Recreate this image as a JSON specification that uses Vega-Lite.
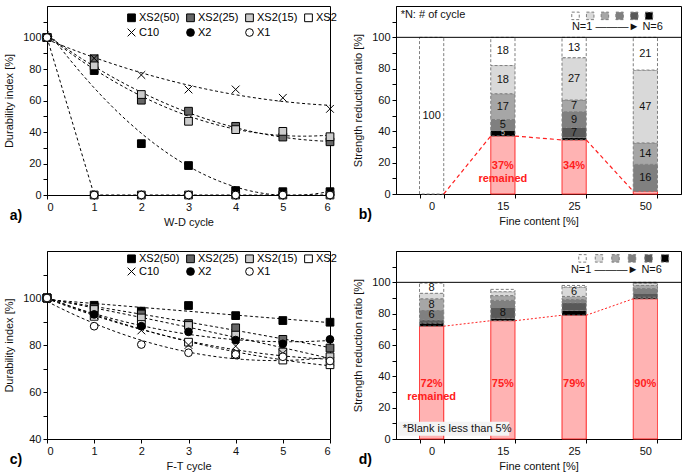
{
 "$schema": "https://vega.github.io/schema/vega-lite/v6.json",
 "padding": {"left": 3, "top": 5, "right": 0, "bottom": 0},
 "config": {
  "font": "Liberation Sans",
  "view": {"stroke": "#000", "strokeWidth": 1},
  "axis": {"grid": false, "domainColor": "#000", "tickColor": "#000", "labelColor": "#111", "titleColor": "#111", "labelFontSize": 11, "titleFontSize": 11, "titleFontWeight": "normal", "tickSize": 4, "labelPadding": 2, "labelFont": "Liberation Sans", "titleFont": "Liberation Sans", "labelOverlap": false},
  "axisY": {"titlePadding": 8, "labelOverlap": false},
  "axisX": {"titlePadding": 4},
  "text": {"font": "Liberation Sans"},
  "legend": {"labelFont": "Liberation Sans", "labelColor": "#000", "labelFontSize": 11, "titleFont": "Liberation Sans"}
 },
 "datasets": {
  "wd": [
   {"series": "XS2(50)", "cycle": 0, "value": 100}, {"series": "XS2(50)", "cycle": 1, "value": 79}, {"series": "XS2(50)", "cycle": 2, "value": 32.6}, {"series": "XS2(50)", "cycle": 3, "value": 18.7}, {"series": "XS2(50)", "cycle": 4, "value": 2.8}, {"series": "XS2(50)", "cycle": 5, "value": 2.1}, {"series": "XS2(50)", "cycle": 6, "value": 2.1},
   {"series": "XS2(25)", "cycle": 0, "value": 100}, {"series": "XS2(25)", "cycle": 1, "value": 86.5}, {"series": "XS2(25)", "cycle": 2, "value": 60.2}, {"series": "XS2(25)", "cycle": 3, "value": 53.2}, {"series": "XS2(25)", "cycle": 4, "value": 43.6}, {"series": "XS2(25)", "cycle": 5, "value": 36.8}, {"series": "XS2(25)", "cycle": 6, "value": 33.8},
   {"series": "XS2(15)", "cycle": 0, "value": 100}, {"series": "XS2(15)", "cycle": 1, "value": 82}, {"series": "XS2(15)", "cycle": 2, "value": 63.8}, {"series": "XS2(15)", "cycle": 3, "value": 46.8}, {"series": "XS2(15)", "cycle": 4, "value": 41.5}, {"series": "XS2(15)", "cycle": 5, "value": 40.4}, {"series": "XS2(15)", "cycle": 6, "value": 37},
   {"series": "XS2", "cycle": 0, "value": 100}, {"series": "XS2", "cycle": 1, "value": 0}, {"series": "XS2", "cycle": 2, "value": 0}, {"series": "XS2", "cycle": 3, "value": 0}, {"series": "XS2", "cycle": 4, "value": 0}, {"series": "XS2", "cycle": 5, "value": 0}, {"series": "XS2", "cycle": 6, "value": 0},
   {"series": "C10", "cycle": 0, "value": 100}, {"series": "C10", "cycle": 1, "value": 86.8}, {"series": "C10", "cycle": 2, "value": 76.2}, {"series": "C10", "cycle": 3, "value": 67}, {"series": "C10", "cycle": 4, "value": 67}, {"series": "C10", "cycle": 5, "value": 61.7}, {"series": "C10", "cycle": 6, "value": 54.7},
   {"series": "X2", "cycle": 0, "value": 100}, {"series": "X2", "cycle": 1, "value": 0}, {"series": "X2", "cycle": 2, "value": 0}, {"series": "X2", "cycle": 3, "value": 0}, {"series": "X2", "cycle": 4, "value": 0}, {"series": "X2", "cycle": 5, "value": 0}, {"series": "X2", "cycle": 6, "value": 0},
   {"series": "X1", "cycle": 0, "value": 100}, {"series": "X1", "cycle": 1, "value": 0}, {"series": "X1", "cycle": 2, "value": 0}, {"series": "X1", "cycle": 3, "value": 0}, {"series": "X1", "cycle": 4, "value": 0}, {"series": "X1", "cycle": 5, "value": 0}, {"series": "X1", "cycle": 6, "value": 0}
  ],
  "ft": [
   {"series": "XS2(50)", "cycle": 0, "value": 100}, {"series": "XS2(50)", "cycle": 1, "value": 96.9}, {"series": "XS2(50)", "cycle": 2, "value": 94.4}, {"series": "XS2(50)", "cycle": 3, "value": 96.8}, {"series": "XS2(50)", "cycle": 4, "value": 92.5}, {"series": "XS2(50)", "cycle": 5, "value": 90.4}, {"series": "XS2(50)", "cycle": 6, "value": 89.7},
   {"series": "XS2(25)", "cycle": 0, "value": 100}, {"series": "XS2(25)", "cycle": 1, "value": 95.8}, {"series": "XS2(25)", "cycle": 2, "value": 93.2}, {"series": "XS2(25)", "cycle": 3, "value": 89.1}, {"series": "XS2(25)", "cycle": 4, "value": 87.3}, {"series": "XS2(25)", "cycle": 5, "value": 82.4}, {"series": "XS2(25)", "cycle": 6, "value": 78.7},
   {"series": "XS2(15)", "cycle": 0, "value": 100}, {"series": "XS2(15)", "cycle": 1, "value": 95.1}, {"series": "XS2(15)", "cycle": 2, "value": 91.5}, {"series": "XS2(15)", "cycle": 3, "value": 88.3}, {"series": "XS2(15)", "cycle": 4, "value": 84.2}, {"series": "XS2(15)", "cycle": 5, "value": 77}, {"series": "XS2(15)", "cycle": 6, "value": 75},
   {"series": "XS2", "cycle": 0, "value": 100}, {"series": "XS2", "cycle": 1, "value": 92.2}, {"series": "XS2", "cycle": 2, "value": 88.7}, {"series": "XS2", "cycle": 3, "value": 81.2}, {"series": "XS2", "cycle": 4, "value": 75.9}, {"series": "XS2", "cycle": 5, "value": 73.6}, {"series": "XS2", "cycle": 6, "value": 71.6},
   {"series": "C10", "cycle": 0, "value": 100}, {"series": "C10", "cycle": 1, "value": 92.7}, {"series": "C10", "cycle": 2, "value": 86.2}, {"series": "C10", "cycle": 3, "value": 80}, {"series": "C10", "cycle": 4, "value": 79.5}, {"series": "C10", "cycle": 5, "value": 76.4}, {"series": "C10", "cycle": 6, "value": 73},
   {"series": "X2", "cycle": 0, "value": 100}, {"series": "X2", "cycle": 1, "value": 93}, {"series": "X2", "cycle": 2, "value": 88}, {"series": "X2", "cycle": 3, "value": 85.6}, {"series": "X2", "cycle": 4, "value": 82.1}, {"series": "X2", "cycle": 5, "value": 80.5}, {"series": "X2", "cycle": 6, "value": 82.4},
   {"series": "X1", "cycle": 0, "value": 100}, {"series": "X1", "cycle": 1, "value": 88}, {"series": "X1", "cycle": 2, "value": 80.2}, {"series": "X1", "cycle": 3, "value": 76.7}, {"series": "X1", "cycle": 4, "value": 76}, {"series": "X1", "cycle": 5, "value": 75}, {"series": "X1", "cycle": 6, "value": 73.2}
  ],
  "bb": [
   {"cat": "0", "part": "N1", "value": 100, "label": "100", "pct": ""},
   {"cat": "15", "part": "remained", "value": 37, "label": "", "pct": "37%\nremained"},
   {"cat": "15", "part": "N6", "value": 3.5, "label": "5", "pct": ""},
   {"cat": "15", "part": "N4", "value": 7, "label": "5", "pct": ""},
   {"cat": "15", "part": "N3", "value": 16.5, "label": "17", "pct": ""},
   {"cat": "15", "part": "N2", "value": 18, "label": "18", "pct": ""},
   {"cat": "15", "part": "N1", "value": 18, "label": "18", "pct": ""},
   {"cat": "25", "part": "remained", "value": 34.5, "label": "", "pct": "34%"},
   {"cat": "25", "part": "N6", "value": 1.5, "label": "", "pct": ""},
   {"cat": "25", "part": "N5", "value": 6.5, "label": "7", "pct": ""},
   {"cat": "25", "part": "N4", "value": 10, "label": "9", "pct": ""},
   {"cat": "25", "part": "N3", "value": 7.5, "label": "7", "pct": ""},
   {"cat": "25", "part": "N2", "value": 27, "label": "27", "pct": ""},
   {"cat": "25", "part": "N1", "value": 13, "label": "13", "pct": ""},
   {"cat": "50", "part": "remained", "value": 1.7, "label": "", "pct": ""},
   {"cat": "50", "part": "N4", "value": 17.2, "label": "16", "pct": ""},
   {"cat": "50", "part": "N3", "value": 13.7, "label": "14", "pct": ""},
   {"cat": "50", "part": "N2", "value": 46.5, "label": "47", "pct": ""},
   {"cat": "50", "part": "N1", "value": 20.9, "label": "21", "pct": ""}
  ],
  "bd": [
   {"cat": "0", "part": "remained", "value": 72, "label": "", "pct": "72%\nremained"},
   {"cat": "0", "part": "N6", "value": 2, "label": "", "pct": ""},
   {"cat": "0", "part": "N5", "value": 2, "label": "", "pct": ""},
   {"cat": "0", "part": "N4", "value": 6, "label": "6", "pct": ""},
   {"cat": "0", "part": "N3", "value": 7.5, "label": "8", "pct": ""},
   {"cat": "0", "part": "N2", "value": 3.5, "label": "", "pct": ""},
   {"cat": "0", "part": "N1", "value": 6.5, "label": "8", "pct": ""},
   {"cat": "15", "part": "remained", "value": 75.5, "label": "", "pct": "75%"},
   {"cat": "15", "part": "N6", "value": 1.5, "label": "", "pct": ""},
   {"cat": "15", "part": "N5", "value": 7, "label": "8", "pct": ""},
   {"cat": "15", "part": "N4", "value": 4.5, "label": "", "pct": ""},
   {"cat": "15", "part": "N3", "value": 3, "label": "", "pct": ""},
   {"cat": "15", "part": "N2", "value": 2.5, "label": "", "pct": ""},
   {"cat": "15", "part": "N1", "value": 1.5, "label": "", "pct": ""},
   {"cat": "25", "part": "remained", "value": 79, "label": "", "pct": "79%"},
   {"cat": "25", "part": "N6", "value": 3, "label": "", "pct": ""},
   {"cat": "25", "part": "N5", "value": 5, "label": "", "pct": ""},
   {"cat": "25", "part": "N4", "value": 2, "label": "", "pct": ""},
   {"cat": "25", "part": "N3", "value": 2, "label": "", "pct": ""},
   {"cat": "25", "part": "N2", "value": 6, "label": "6", "pct": ""},
   {"cat": "25", "part": "N1", "value": 1, "label": "", "pct": ""},
   {"cat": "50", "part": "remained", "value": 89.5, "label": "", "pct": "90%"},
   {"cat": "50", "part": "N6", "value": 1, "label": "", "pct": ""},
   {"cat": "50", "part": "N5", "value": 2.5, "label": "", "pct": ""},
   {"cat": "50", "part": "N4", "value": 3, "label": "", "pct": ""},
   {"cat": "50", "part": "N3", "value": 2, "label": "", "pct": ""},
   {"cat": "50", "part": "N2", "value": 1.5, "label": "", "pct": ""},
   {"cat": "50", "part": "N1", "value": 0.5, "label": "", "pct": ""}
  ],
  "lb": [
   {"from": "0", "to": "15", "y1": 0, "y2": 37},
   {"from": "15", "to": "25", "y1": 37, "y2": 34.5},
   {"from": "25", "to": "50", "y1": 34.5, "y2": 1.7}
  ],
  "ld": [
   {"from": "0", "to": "15", "y1": 72, "y2": 75.5},
   {"from": "15", "to": "25", "y1": 75.5, "y2": 79},
   {"from": "25", "to": "50", "y1": 79, "y2": 89.5}
  ]
 },
 "columns": 2,
 "spacing": {"row": 22, "column": 14},
 "resolve": {
  "scale": {"x": "independent", "y": "independent", "fill": "independent", "shape": "independent", "stroke": "independent", "strokeDash": "independent", "size": "independent"},
  "legend": {"fill": "independent", "shape": "independent", "stroke": "independent"}
 },
 "concat": [
  {
   "width": 283, "height": 189,
   "title": {"text": "a)", "orient": "bottom", "anchor": "start", "frame": "bounds", "offset": 0, "dx": 6, "dy": -18, "fontSize": 14, "fontWeight": "bold", "color": "#000"},
   "data": {"name": "wd"},
   "encoding": {
    "x": {"field": "cycle", "type": "quantitative", "scale": {"domain": [0, 6], "nice": false}, "axis": {"title": "W-D cycle", "values": [0, 1, 2, 3, 4, 5, 6]}},
    "y": {"field": "value", "type": "quantitative", "scale": {"domain": [0, 120], "nice": false}, "axis": {"title": "Durability index [%]", "values": [0, 10, 20, 30, 40, 50, 60, 70, 80, 90, 100, 110], "labelExpr": "datum.value % 20 === 0 && datum.value <= 100 ? datum.label : ''"}}
   },
   "layer": [
    {"transform": [{"filter": {"field": "series", "oneOf": ["XS2(50)", "XS2(25)", "XS2(15)", "C10"]}}, {"regression": "value", "on": "cycle", "groupby": ["series"], "method": "poly", "order": 2}],
     "mark": {"type": "line", "color": "#000", "strokeWidth": 1, "strokeDash": [3, 2.5]},
     "encoding": {"detail": {"field": "series"}}},
    {"transform": [{"filter": {"field": "series", "equal": "XS2"}}],
     "mark": {"type": "line", "color": "#000", "strokeWidth": 1, "strokeDash": [3, 2.5]},
     "encoding": {}},
    {"mark": {"type": "point", "filled": true, "strokeWidth": 1, "opacity": 1, "size": 60},
     "encoding": {
      "shape": {"field": "series", "type": "nominal", "scale": {"domain": ["XS2(50)", "XS2(25)", "XS2(15)", "XS2", "C10", "X2", "X1"], "range": ["square", "square", "square", "square", "M-1,-1L1,1M-1,1L1,-1", "circle", "circle"]},
       "legend": {"title": null, "orient": "none", "legendX": 79, "legendY": 6, "direction": "horizontal", "columns": 4, "symbolSize": 60, "symbolStrokeWidth": 1, "labelOffset": 2, "columnPadding": 4, "rowPadding": 2, "labelFontSize": 11}},
      "fill": {"field": "series", "type": "nominal", "scale": {"domain": ["XS2(50)", "XS2(25)", "XS2(15)", "XS2", "C10", "X2", "X1"], "range": ["#000000", "#666666", "#cccccc", "#ffffff", "#000000", "#000000", "#ffffff"]},
       "legend": {"title": null, "orient": "none", "legendX": 79, "legendY": 6, "direction": "horizontal", "columns": 4, "symbolSize": 60, "symbolStrokeWidth": 1, "labelOffset": 2, "columnPadding": 4, "rowPadding": 2, "labelFontSize": 11}},
      "stroke": {"field": "series", "type": "nominal", "scale": {"domain": ["XS2(50)", "XS2(25)", "XS2(15)", "XS2", "C10", "X2", "X1"], "range": ["#000000", "#000000", "#000000", "#000000", "#000000", "#000000", "#000000"]},
       "legend": {"title": null, "orient": "none", "legendX": 79, "legendY": 6, "direction": "horizontal", "columns": 4, "symbolSize": 60, "symbolStrokeWidth": 1, "labelOffset": 2, "columnPadding": 4, "rowPadding": 2, "labelFontSize": 11}}
     }}
   ]
  },
  {
   "width": 285, "height": 188,
   "title": {"text": "b)", "orient": "bottom", "anchor": "start", "frame": "bounds", "offset": 0, "dx": 6, "dy": -18, "fontSize": 14, "fontWeight": "bold", "color": "#000"},
   "layer": [
    {"data": {"name": "bb"}, "mark": {"type": "bar", "strokeWidth": 1},
     "encoding": {
      "x": {"field": "cat", "type": "ordinal", "sort": ["0", "15", "25", "50"], "scale": {"type": "band", "paddingInner": 0.66, "paddingOuter": 0.33}, "axis": {"title": "Fine content [%]", "labelAngle": 0, "tickBand": "extent"}},
      "y": {"field": "value", "type": "quantitative", "stack": "zero", "scale": {"domain": [0, 120], "nice": false}, "axis": {"title": "Strength reduction ratio [%]", "values": [0, 10, 20, 30, 40, 50, 60, 70, 80, 90, 100, 110], "labelOverlap": false, "labelExpr": "datum.value % 20 === 0 && datum.value <= 100 ? datum.label : ''"}},
      "fill": {"field": "part", "type": "nominal", "scale": {"domain": ["N1", "N2", "N3", "N4", "N5", "N6", "remained"], "range": ["#ffffff", "#d9d9d9", "#a6a6a6", "#808080", "#595959", "#000000", "#ffb3b3"]},
       "legend": {"orient": "none", "legendX": 174, "legendY": 4, "direction": "horizontal", "values": ["N1", "N2", "N3", "N4", "N5", "N6"], "title": null, "labelExpr": "''", "labelOffset": 0, "symbolType": "square", "symbolSize": 56, "symbolStrokeColor": "#aaaaaa", "symbolStrokeWidth": 1, "symbolDash": [2, 1], "columnPadding": 1.7, "padding": 0}},
      "stroke": {"field": "part", "type": "nominal", "scale": {"domain": ["N1", "N2", "N3", "N4", "N5", "N6", "remained"], "range": ["#7f7f7f", "#7f7f7f", "#7f7f7f", "#7f7f7f", "#7f7f7f", "#7f7f7f", "#ff2020"]}, "legend": null},
      "strokeDash": {"field": "part", "type": "nominal", "scale": {"domain": ["N1", "N2", "N3", "N4", "N5", "N6", "remained"], "range": [[3, 2], [3, 2], [3, 2], [3, 2], [3, 2], [3, 2], [1, 0]]}, "legend": null},
      "order": {"field": "part", "sort": "descending"}
     }},
    {"data": {"name": "lb"}, "mark": {"type": "rule", "color": "#ff2020", "strokeWidth": 1.2, "strokeDash": [4, 3]},
     "encoding": {"x": {"field": "from", "type": "ordinal", "sort": ["0", "15", "25", "50"], "bandPosition": 1}, "x2": {"field": "to", "bandPosition": 0},
      "y": {"field": "y1", "type": "quantitative", "axis": {"title": "Strength reduction ratio [%]", "values": [0, 10, 20, 30, 40, 50, 60, 70, 80, 90, 100, 110], "labelOverlap": false, "labelExpr": "datum.value % 20 === 0 && datum.value <= 100 ? datum.label : ''"}}, "y2": {"field": "y2"}}},
    {"data": {"name": "bb"}, "mark": {"type": "text"},
     "encoding": {
      "x": {"field": "cat", "type": "ordinal", "sort": ["0", "15", "25", "50"]},
      "y": {"field": "value", "type": "quantitative", "stack": "zero", "bandPosition": 0.5, "axis": {"title": "Strength reduction ratio [%]", "values": [0, 10, 20, 30, 40, 50, 60, 70, 80, 90, 100, 110], "labelOverlap": false, "labelExpr": "datum.value % 20 === 0 && datum.value <= 100 ? datum.label : ''"}},
      "detail": {"field": "part"},
      "order": {"field": "part", "sort": "descending"},
      "text": {"field": "label"},
      "size": {"condition": {"test": "datum.part === 'N6'", "value": 7}, "value": 11},
      "color": {"condition": {"test": "datum.part === 'N6'", "value": "#cccccc"}, "value": "#111111"}
     }},
    {"data": {"name": "bb"}, "transform": [{"filter": "datum.part === 'remained'"}],
     "mark": {"type": "text", "fontSize": 11, "fontWeight": "bold", "color": "#ff2020", "lineBreak": "\n"},
     "encoding": {"x": {"field": "cat", "type": "ordinal", "sort": ["0", "15", "25", "50"]}, "y": {"datum": 18, "type": "quantitative", "axis": {"title": "Strength reduction ratio [%]", "values": [0, 10, 20, 30, 40, 50, 60, 70, 80, 90, 100, 110], "labelOverlap": false, "labelExpr": "datum.value % 20 === 0 && datum.value <= 100 ? datum.label : ''"}}, "text": {"field": "pct"}}},
    {"data": {"values": [{"note": "*N: # of cycle"}]}, "mark": {"type": "text", "align": "left", "fontSize": 11, "color": "#111", "dx": -31},
     "encoding": {"x": {"datum": "0"}, "y": {"datum": 114, "type": "quantitative", "axis": {"title": "Strength reduction ratio [%]", "values": [0, 10, 20, 30, 40, 50, 60, 70, 80, 90, 100, 110], "labelOverlap": false, "labelExpr": "datum.value % 20 === 0 && datum.value <= 100 ? datum.label : ''"}}, "text": {"field": "note"}}},
    {"data": {"values": [{"note": "N=1 ———► N=6"}]}, "mark": {"type": "text", "align": "center", "fontSize": 11, "color": "#111", "dx": -28},
     "encoding": {"x": {"datum": "50"}, "y": {"datum": 106.6, "type": "quantitative", "axis": {"title": "Strength reduction ratio [%]", "values": [0, 10, 20, 30, 40, 50, 60, 70, 80, 90, 100, 110], "labelOverlap": false, "labelExpr": "datum.value % 20 === 0 && datum.value <= 100 ? datum.label : ''"}}, "text": {"field": "note"}}},
    {"data": {"values": [{}]}, "mark": {"type": "rule", "color": "#000", "strokeWidth": 1}, "encoding": {"y": {"datum": 100, "type": "quantitative", "axis": {"title": "Strength reduction ratio [%]", "values": [0, 10, 20, 30, 40, 50, 60, 70, 80, 90, 100, 110], "labelOverlap": false, "labelExpr": "datum.value % 20 === 0 && datum.value <= 100 ? datum.label : ''"}}}}
   ]
  },
  {
   "width": 283, "height": 188,
   "title": {"text": "c)", "orient": "bottom", "anchor": "start", "frame": "bounds", "offset": 0, "dx": 6, "dy": -18, "fontSize": 14, "fontWeight": "bold", "color": "#000"},
   "data": {"name": "ft"},
   "encoding": {
    "x": {"field": "cycle", "type": "quantitative", "scale": {"domain": [0, 6], "nice": false}, "axis": {"title": "F-T cycle", "values": [0, 1, 2, 3, 4, 5, 6]}},
    "y": {"field": "value", "type": "quantitative", "scale": {"domain": [40, 120], "nice": false}, "axis": {"title": "Durability index [%]", "values": [40, 50, 60, 70, 80, 90, 100, 110], "labelExpr": "datum.value % 20 === 0 && datum.value <= 100 ? datum.label : ''"}}
   },
   "layer": [
    {"transform": [{"regression": "value", "on": "cycle", "groupby": ["series"], "method": "poly", "order": 2}],
     "mark": {"type": "line", "color": "#000", "strokeWidth": 1, "strokeDash": [3, 2.5]},
     "encoding": {"detail": {"field": "series"}}},
    {"mark": {"type": "point", "filled": true, "strokeWidth": 1, "opacity": 1, "size": 60},
     "encoding": {
      "shape": {"field": "series", "type": "nominal", "scale": {"domain": ["XS2(50)", "XS2(25)", "XS2(15)", "XS2", "C10", "X2", "X1"], "range": ["square", "square", "square", "square", "M-1,-1L1,1M-1,1L1,-1", "circle", "circle"]},
       "legend": {"title": null, "orient": "none", "legendX": 79, "legendY": 2, "direction": "horizontal", "columns": 4, "symbolSize": 60, "symbolStrokeWidth": 1, "labelOffset": 2, "columnPadding": 4, "rowPadding": 0, "labelFontSize": 11}},
      "fill": {"field": "series", "type": "nominal", "scale": {"domain": ["XS2(50)", "XS2(25)", "XS2(15)", "XS2", "C10", "X2", "X1"], "range": ["#000000", "#666666", "#cccccc", "#ffffff", "#000000", "#000000", "#ffffff"]},
       "legend": {"title": null, "orient": "none", "legendX": 79, "legendY": 2, "direction": "horizontal", "columns": 4, "symbolSize": 60, "symbolStrokeWidth": 1, "labelOffset": 2, "columnPadding": 4, "rowPadding": 0, "labelFontSize": 11}},
      "stroke": {"field": "series", "type": "nominal", "scale": {"domain": ["XS2(50)", "XS2(25)", "XS2(15)", "XS2", "C10", "X2", "X1"], "range": ["#000000", "#000000", "#000000", "#000000", "#000000", "#000000", "#000000"]},
       "legend": {"title": null, "orient": "none", "legendX": 79, "legendY": 2, "direction": "horizontal", "columns": 4, "symbolSize": 60, "symbolStrokeWidth": 1, "labelOffset": 2, "columnPadding": 4, "rowPadding": 0, "labelFontSize": 11}}
     }}
   ]
  },
  {
   "width": 285, "height": 188,
   "title": {"text": "d)", "orient": "bottom", "anchor": "start", "frame": "bounds", "offset": 0, "dx": 6, "dy": -18, "fontSize": 14, "fontWeight": "bold", "color": "#000"},
   "layer": [
    {"data": {"name": "bd"}, "mark": {"type": "bar", "strokeWidth": 1},
     "encoding": {
      "x": {"field": "cat", "type": "ordinal", "sort": ["0", "15", "25", "50"], "scale": {"type": "band", "paddingInner": 0.66, "paddingOuter": 0.33}, "axis": {"title": "Fine content [%]", "labelAngle": 0, "tickBand": "extent"}},
      "y": {"field": "value", "type": "quantitative", "stack": "zero", "scale": {"domain": [0, 120], "nice": false}, "axis": {"title": "Strength reduction ratio [%]", "values": [0, 10, 20, 30, 40, 50, 60, 70, 80, 90, 100, 110], "labelOverlap": false, "labelExpr": "datum.value % 20 === 0 && datum.value <= 100 ? datum.label : ''"}},
      "fill": {"field": "part", "type": "nominal", "scale": {"domain": ["N1", "N2", "N3", "N4", "N5", "N6", "remained"], "range": ["#ffffff", "#d9d9d9", "#a6a6a6", "#808080", "#595959", "#000000", "#ffb3b3"]},
       "legend": {"orient": "none", "legendX": 181, "legendY": 1.5, "direction": "horizontal", "values": ["N1", "N2", "N3", "N4", "N5", "N6"], "title": null, "labelExpr": "''", "labelOffset": 0, "symbolType": "square", "symbolSize": 56, "symbolStrokeColor": "#aaaaaa", "symbolStrokeWidth": 1, "symbolDash": [2, 1], "columnPadding": 3.5, "padding": 0}},
      "stroke": {"field": "part", "type": "nominal", "scale": {"domain": ["N1", "N2", "N3", "N4", "N5", "N6", "remained"], "range": ["#7f7f7f", "#7f7f7f", "#7f7f7f", "#7f7f7f", "#7f7f7f", "#7f7f7f", "#ff2020"]}, "legend": null},
      "strokeDash": {"field": "part", "type": "nominal", "scale": {"domain": ["N1", "N2", "N3", "N4", "N5", "N6", "remained"], "range": [[3, 2], [3, 2], [3, 2], [3, 2], [3, 2], [3, 2], [1, 0]]}, "legend": null},
      "order": {"field": "part", "sort": "descending"}
     }},
    {"data": {"name": "ld"}, "mark": {"type": "rule", "color": "#ff2020", "strokeWidth": 1, "strokeDash": [2, 2]},
     "encoding": {"x": {"field": "from", "type": "ordinal", "sort": ["0", "15", "25", "50"], "bandPosition": 1}, "x2": {"field": "to", "bandPosition": 0},
      "y": {"field": "y1", "type": "quantitative", "axis": {"title": "Strength reduction ratio [%]", "values": [0, 10, 20, 30, 40, 50, 60, 70, 80, 90, 100, 110], "labelOverlap": false, "labelExpr": "datum.value % 20 === 0 && datum.value <= 100 ? datum.label : ''"}}, "y2": {"field": "y2"}}},
    {"data": {"name": "bd"}, "mark": {"type": "text", "fontSize": 11},
     "encoding": {
      "x": {"field": "cat", "type": "ordinal", "sort": ["0", "15", "25", "50"]},
      "y": {"field": "value", "type": "quantitative", "stack": "zero", "bandPosition": 0.5, "axis": {"title": "Strength reduction ratio [%]", "values": [0, 10, 20, 30, 40, 50, 60, 70, 80, 90, 100, 110], "labelOverlap": false, "labelExpr": "datum.value % 20 === 0 && datum.value <= 100 ? datum.label : ''"}},
      "detail": {"field": "part"},
      "order": {"field": "part", "sort": "descending"},
      "text": {"field": "label"},
      "color": {"value": "#111111"}
     }},
    {"data": {"name": "bd"}, "transform": [{"filter": "datum.part === 'remained'"}],
     "mark": {"type": "text", "fontSize": 11, "fontWeight": "bold", "color": "#ff2020", "lineBreak": "\n"},
     "encoding": {"x": {"field": "cat", "type": "ordinal", "sort": ["0", "15", "25", "50"]}, "y": {"datum": 35, "type": "quantitative", "axis": {"title": "Strength reduction ratio [%]", "values": [0, 10, 20, 30, 40, 50, 60, 70, 80, 90, 100, 110], "labelOverlap": false, "labelExpr": "datum.value % 20 === 0 && datum.value <= 100 ? datum.label : ''"}}, "text": {"field": "pct"}}},
    {"data": {"values": [{}]}, "mark": {"type": "rect", "fill": "#f4f4f4"},
     "encoding": {"x": {"datum": "0", "bandPosition": -0.9}, "x2": {"datum": "15", "bandPosition": 0.76}, "y": {"datum": 2, "type": "quantitative", "axis": {"title": "Strength reduction ratio [%]", "values": [0, 10, 20, 30, 40, 50, 60, 70, 80, 90, 100, 110], "labelOverlap": false, "labelExpr": "datum.value % 20 === 0 && datum.value <= 100 ? datum.label : ''"}}, "y2": {"datum": 11}}},
    {"data": {"values": [{"note": "*Blank is less than 5%"}]}, "mark": {"type": "text", "align": "left", "fontSize": 11, "color": "#111", "dx": -29},
     "encoding": {"x": {"datum": "0"}, "y": {"datum": 6.3, "type": "quantitative", "axis": {"title": "Strength reduction ratio [%]", "values": [0, 10, 20, 30, 40, 50, 60, 70, 80, 90, 100, 110], "labelOverlap": false, "labelExpr": "datum.value % 20 === 0 && datum.value <= 100 ? datum.label : ''"}}, "text": {"field": "note"}}},
    {"data": {"values": [{"note": "N=1 ———► N=6"}]}, "mark": {"type": "text", "align": "center", "fontSize": 11, "color": "#111", "dx": -29},
     "encoding": {"x": {"datum": "50"}, "y": {"datum": 108, "type": "quantitative", "axis": {"title": "Strength reduction ratio [%]", "values": [0, 10, 20, 30, 40, 50, 60, 70, 80, 90, 100, 110], "labelOverlap": false, "labelExpr": "datum.value % 20 === 0 && datum.value <= 100 ? datum.label : ''"}}, "text": {"field": "note"}}},
    {"data": {"values": [{}]}, "mark": {"type": "rule", "color": "#000", "strokeWidth": 1}, "encoding": {"y": {"datum": 100, "type": "quantitative", "axis": {"title": "Strength reduction ratio [%]", "values": [0, 10, 20, 30, 40, 50, 60, 70, 80, 90, 100, 110], "labelOverlap": false, "labelExpr": "datum.value % 20 === 0 && datum.value <= 100 ? datum.label : ''"}}}}
   ]
  }
 ]
}
